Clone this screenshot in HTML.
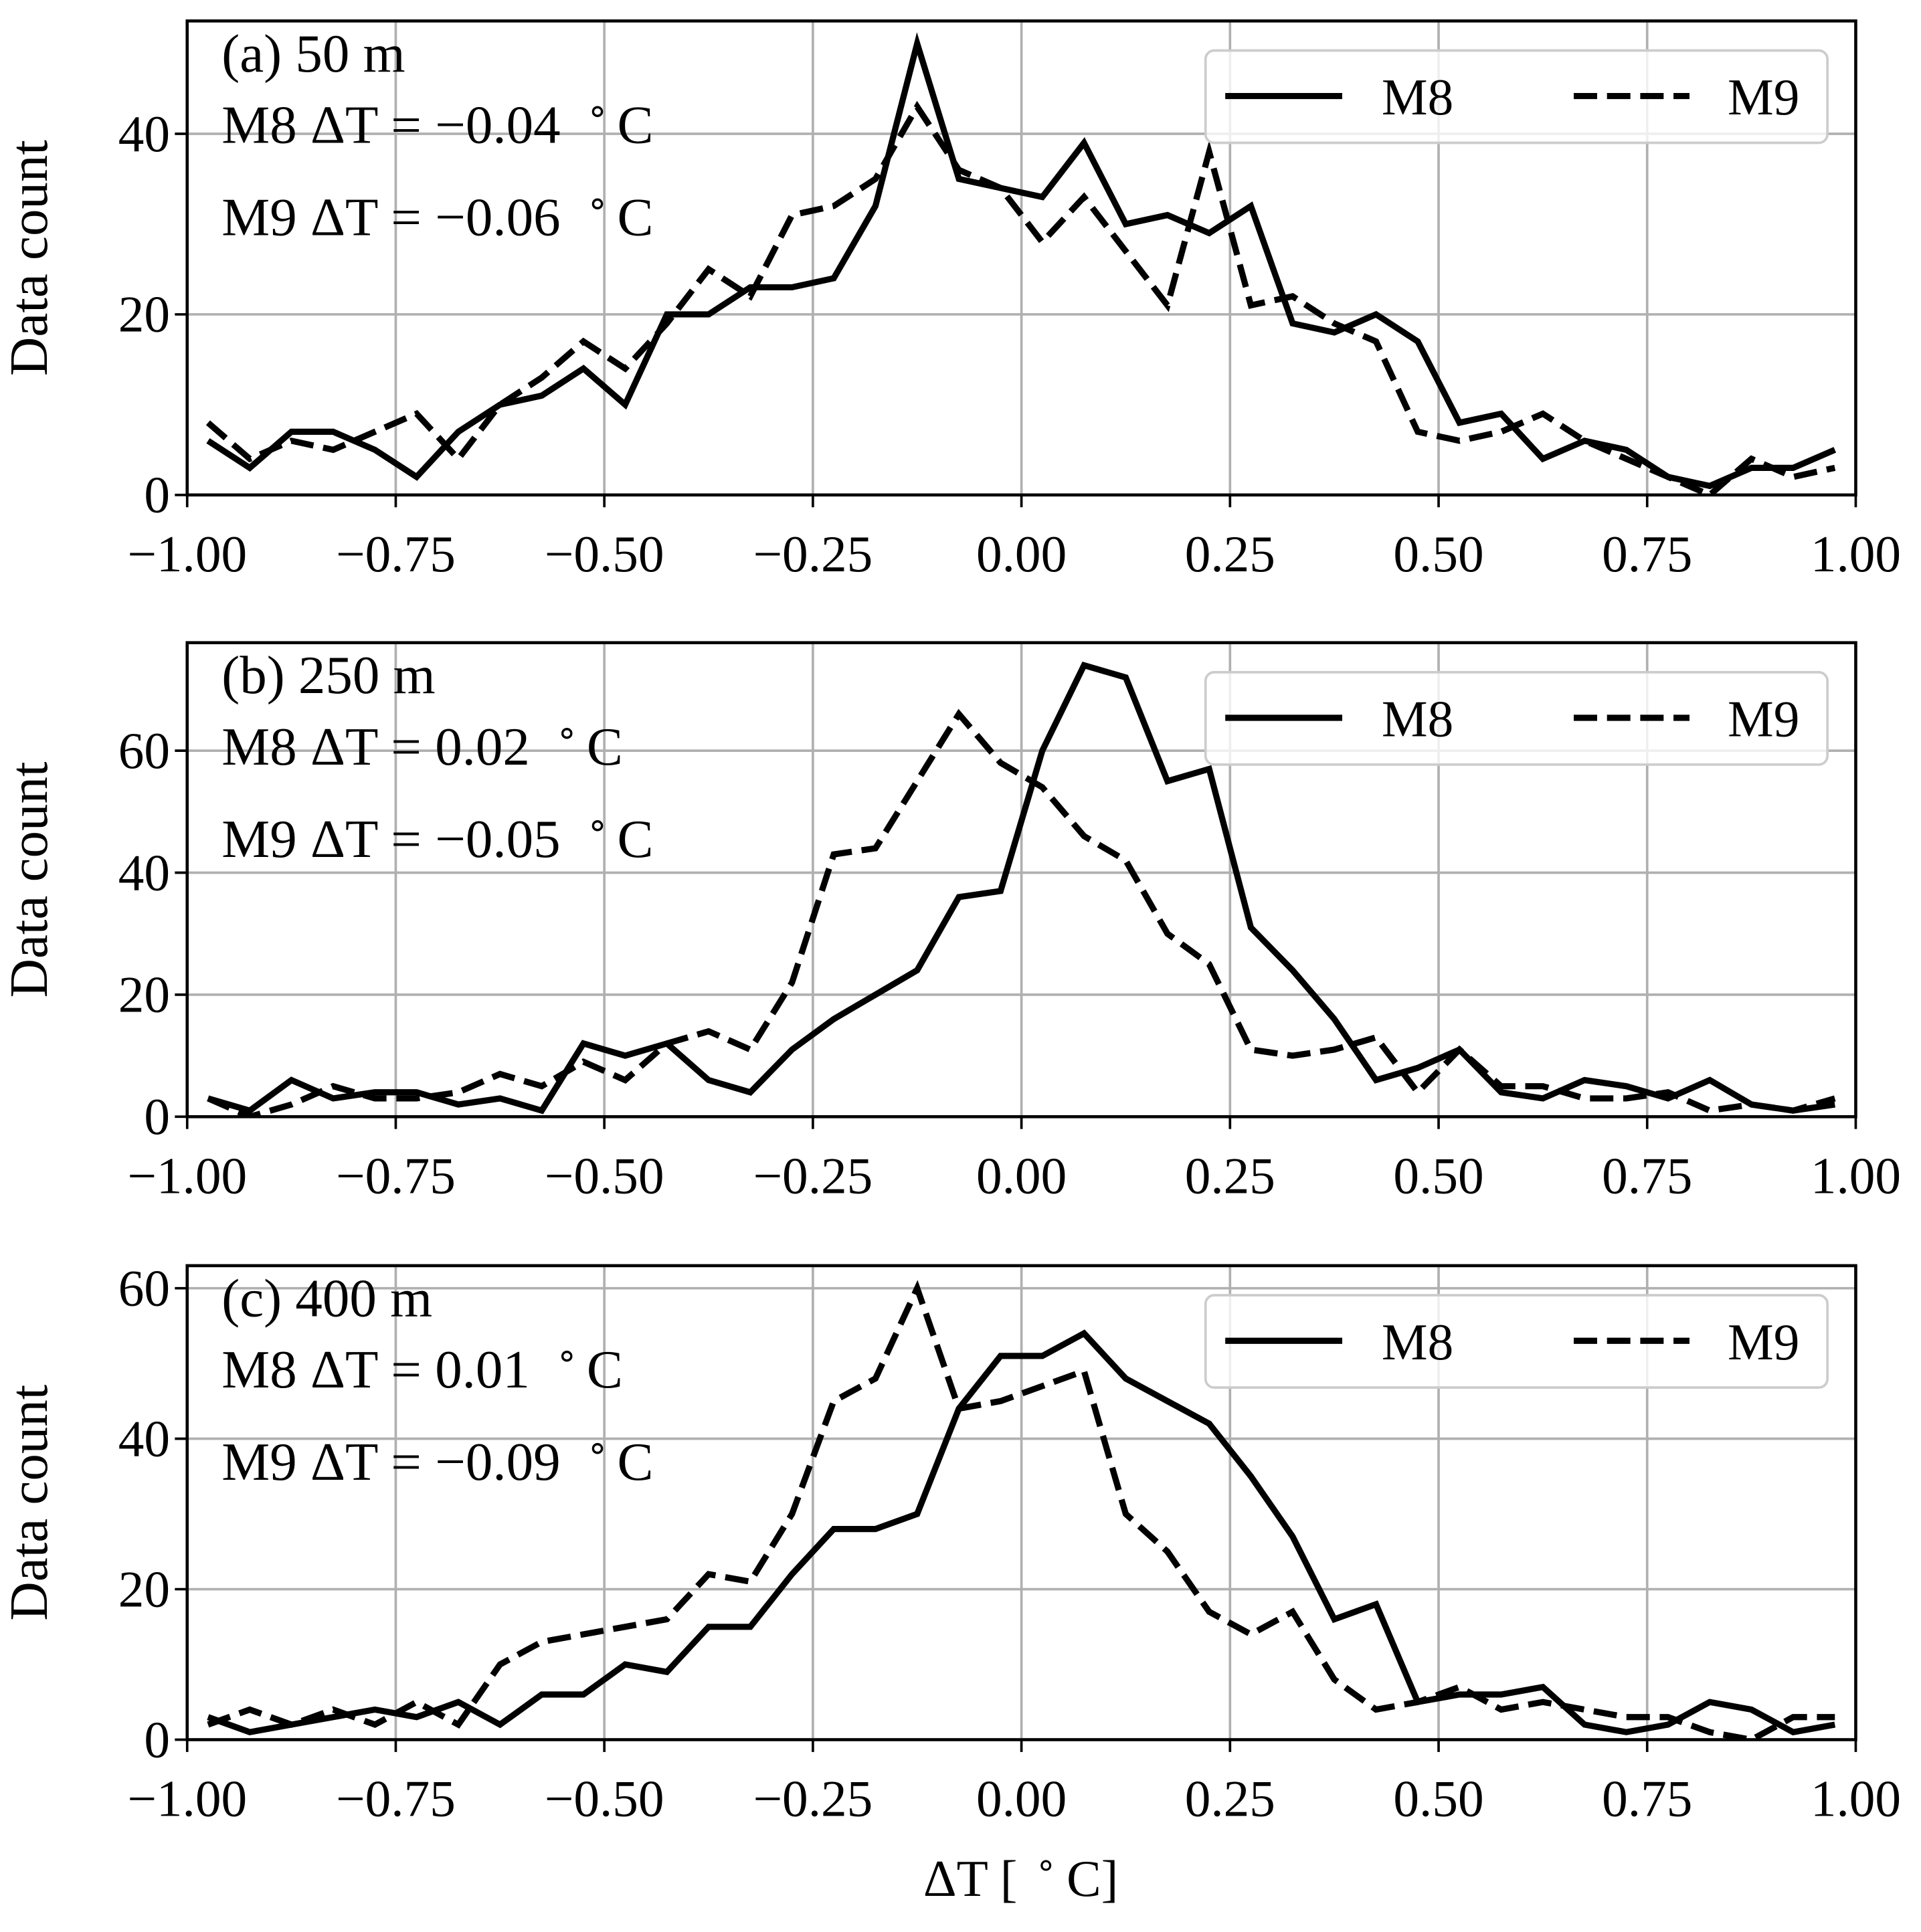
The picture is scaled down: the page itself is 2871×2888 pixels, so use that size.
<!DOCTYPE html>
<html><head><meta charset="utf-8"><style>
html,body{margin:0;padding:0;background:#fff}
svg{display:block}
text{font-family:"Liberation Serif",serif;fill:#000}
</style></head><body>
<svg id="fig" width="2871" height="2888" viewBox="0 0 1560 1569.2" xmlns="http://www.w3.org/2000/svg"></svg>
<script>
const binCenters = [-0.975,-0.925,-0.875,-0.825,-0.775,-0.725,-0.675,-0.625,-0.575,-0.525,-0.475,-0.425,-0.375,-0.325,-0.275,-0.225,-0.175,-0.125,-0.075,-0.025,0.025,0.075,0.125,0.175,0.225,0.275,0.325,0.375,0.425,0.475,0.525,0.575,0.625,0.675,0.725,0.775,0.825,0.875,0.925,0.975];
const m8a = [6,3,7,7,5,2,7,10,11,14,10,20,20,23,23,24,32,50,35,34,33,39,30,31,29,32,19,18,20,17,8,9,4,6,5,2,1,3,3,5];
const m9a = [8,4,6,5,7,9,4,10,13,17,14,19,25,22,31,32,35,43,36,34,28,33,27,21,38,21,22,19,17,7,6,7,9,6,4,2,0,4,2,3];
const m8b = [3,1,6,3,4,4,2,3,1,12,10,12,6,4,11,16,20,24,36,37,60,74,72,55,57,31,24,16,6,8,11,4,3,6,5,3,6,2,1,2];
const m9b = [3,0,2,5,3,3,4,7,5,9,6,12,14,11,22,43,44,55,66,58,54,46,42,30,25,11,10,11,13,4,11,5,5,3,3,4,1,2,1,3];
const m8c = [3,1,2,3,4,3,5,2,6,6,10,9,15,15,22,28,28,30,44,51,51,54,48,45,42,35,27,16,18,5,6,6,7,2,1,2,5,4,1,2];
const m9c = [2,4,2,4,2,5,2,10,13,14,15,16,22,21,30,45,48,60,44,45,47,49,30,25,17,14,17,8,4,5,7,4,5,4,3,3,1,0,3,3];
const xTicks = [-1.00,-0.75,-0.50,-0.25,0.00,0.25,0.50,0.75,1.00];
const xTickLabels = ["\u22121.00","\u22120.75","\u22120.50","\u22120.25","0.00","0.25","0.50","0.75","1.00"];
const yTicksA = [0,20,40];
const yTicksB = [0,20,40,60];
const yTicksC = [0,20,40,60];
const titles = ["(a) 50 m","(b) 250 m","(c) 400 m"];
const m8Means = ["\u22120.04","0.02","0.01"];
const m9Means = ["\u22120.06","\u22120.05","\u22120.09"];

const NS="http://www.w3.org/2000/svg";
const svg=document.getElementById('fig');
function mk(tag,attrs,parent){const e=document.createElementNS(NS,tag);for(const k in attrs)e.setAttribute(k,attrs[k]);(parent||svg).appendChild(e);return e;}
const L=152,R=1507;
const FS=42, AFS=44;
const panels=[
 {top:17,bot:402,ymax:52.5,m8:m8a,m9:m9a,yt:yTicksA},
 {top:522,bot:907,ymax:77.7,m8:m8b,m9:m9b,yt:yTicksB},
 {top:1028,bot:1413,ymax:63,m8:m8c,m9:m9c,yt:yTicksC}];
panels.forEach((p,i)=>{
 const g=mk('g',{});
 
 
 const xs=v=>L+(v+1)/2*(R-L);
 const ys=v=>p.bot-v/p.ymax*(p.bot-p.top);
 xTicks.forEach((t,k)=>{
  const gl=mk('line',{x1:xs(t),x2:xs(t),y1:p.top,y2:p.bot,stroke:'#b0b0b0','stroke-width':2},g);
  
  
  mk('line',{x1:xs(t),x2:xs(t),y1:p.bot,y2:p.bot+10,stroke:'#000','stroke-width':2},g);
  const tl=mk('text',{x:xs(t),y:p.bot+62,'font-size':FS,'text-anchor':'middle'},g);
  tl.textContent=xTickLabels[k];
  
  
 });
 p.yt.forEach(t=>{
  mk('line',{x1:L,x2:R,y1:ys(t),y2:ys(t),stroke:'#b0b0b0','stroke-width':2},g);
  mk('line',{x1:L-10,x2:L,y1:ys(t),y2:ys(t),stroke:'#000','stroke-width':2},g);
  const tl=mk('text',{x:L-14,y:ys(t)+14,'font-size':FS,'text-anchor':'end'},g);
  tl.textContent=String(t);
  
  
 });
 const clipId='clip'+i;
 const cp=mk('clipPath',{id:clipId},g);mk('rect',{x:L,y:p.top,width:R-L,height:p.bot-p.top},cp);
 const d9=binCenters.map((c,k)=>(k?'L':'M')+xs(c).toFixed(2)+','+ys(p.m9[k]).toFixed(2)).join(' ');
 const s9=mk('path',{d:d9,fill:'none',stroke:'#000','stroke-width':5,'stroke-dasharray':'19,8','clip-path':'url(#'+clipId+')'},g);
 
 
 const d8=binCenters.map((c,k)=>(k?'L':'M')+xs(c).toFixed(2)+','+ys(p.m8[k]).toFixed(2)).join(' ');
 const s8=mk('path',{d:d8,fill:'none',stroke:'#000','stroke-width':5,'clip-path':'url(#'+clipId+')'},g);
 
 
 const fr=mk('rect',{x:L,y:p.top,width:R-L,height:p.bot-p.top,fill:'none',stroke:'#000','stroke-width':2.5},g);
 
 
 const t1=mk('text',{x:180,y:p.top+41,'font-size':AFS},g);t1.textContent=titles[i];
 
 
 [[m8Means[i],'M8',p.top+99],[m9Means[i],'M9',p.top+174]].forEach(([v,n,y])=>{
  const t=mk('text',{x:180,y:y,'font-size':AFS},g);
  
  
  t.appendChild(document.createTextNode(n+' \u0394T = '+v+' '));
  const sp=mk('tspan',{dy:-16,'font-size':29,dx:10},t);sp.textContent='\u2218';
  const sp2=mk('tspan',{dy:16,dx:7},t);sp2.textContent='C';
 });
 const lg=mk('g',{},g);
 
 
 mk('rect',{x:979,y:p.top+24,width:505,height:75,rx:7,fill:'#fff','fill-opacity':0.8,stroke:'#cccccc','stroke-width':2},lg);
 mk('line',{x1:995,x2:1090,y1:p.top+61,y2:p.top+61,stroke:'#000','stroke-width':5},lg);
 const l1=mk('text',{x:1122,y:p.top+76,'font-size':FS},lg);l1.textContent='M8';
 
 
 mk('line',{x1:1278,x2:1372,y1:p.top+61,y2:p.top+61,stroke:'#000','stroke-width':5,'stroke-dasharray':'19,8'},lg);
 const l2=mk('text',{x:1403,y:p.top+76,'font-size':FS},lg);l2.textContent='M9';
 
 
 const yl=mk('text',{x:0,y:0,'font-size':AFS,'text-anchor':'middle',transform:'translate(38,'+((p.top+p.bot)/2)+') rotate(-90)'},g);
 yl.textContent='Data count';
 
 
});
const xl=mk('text',{x:829,y:1540,'font-size':FS,'text-anchor':'middle'});


xl.appendChild(document.createTextNode('\u0394T [ '));
const d1=mk('tspan',{dy:-16,'font-size':28,dx:4},xl);d1.textContent='\u2218';
const d2=mk('tspan',{dy:16,dx:8},xl);d2.textContent='C]';
</script>
</body></html>
